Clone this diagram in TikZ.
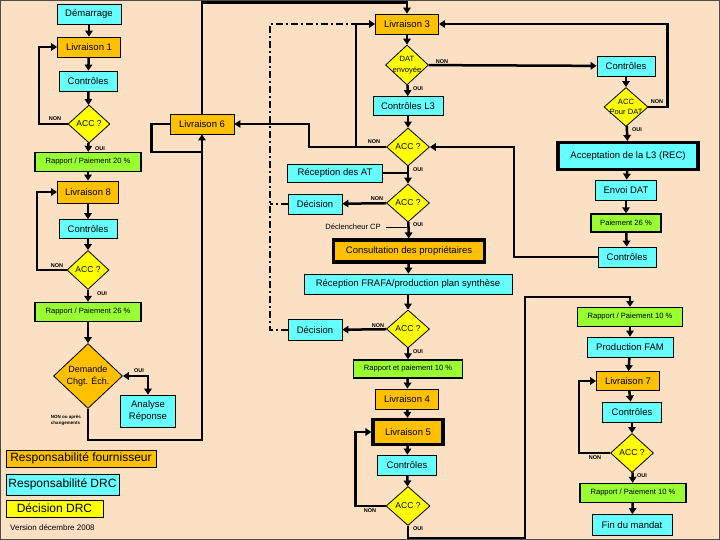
\documentclass[tikz,border=0pt]{standalone}
\usepackage{fontspec}
\setmainfont{Liberation Sans}
\usetikzlibrary{arrows.meta,shapes.geometric}
\definecolor{bgc}{RGB}{251,224,196}
\definecolor{orc}{RGB}{255,192,0}
\definecolor{cyc}{RGB}{102,255,255}
\definecolor{grc}{RGB}{153,255,51}
\definecolor{yec}{RGB}{255,255,0}
\begin{document}
\begin{tikzpicture}[x=1pt,y=-1pt,
 box/.style={draw=black,line width=0.8pt,inner sep=0pt,font=\fontsize{9.5}{11}\selectfont,align=center},
 orb/.style={box,fill=orc}, cyb/.style={box,fill=cyc},
 grb/.style={box,fill=grc,line width=1.4pt,font=\fontsize{7.6}{9}\selectfont},
 thk/.style={line width=3.2pt},
 dia/.style={diamond,draw=black,line width=0.8pt,fill=yec,inner sep=0pt},
 dtxt/.style={font=\fontsize{8.5}{10}\selectfont,align=center,inner sep=0pt},
 dsm/.style={font=\fontsize{7.6}{10.5}\selectfont,align=center,inner sep=0pt},
 lab/.style={font=\fontsize{5.5}{6}\selectfont\bfseries,inner sep=0pt},
 ln/.style={line width=2.5pt},
 arr/.style={ln,-{Triangle[length=6pt,width=7.5pt]}},
 dd/.style={line width=2.2pt,dash pattern=on 7pt off 3pt on 2pt off 3pt},
 legb/.style={draw=black,line width=0.8pt,inner sep=0pt,font=\fontsize{12}{14}\selectfont}
]
\useasboundingbox (0,0) rectangle (720,540);
\fill[bgc] (0,0) rectangle (720,540);
\draw[line width=1pt,black!70] (0.5,0.5) rectangle (719.5,539.5);

% ---- left column
\node[cyb,minimum width=64,minimum height=20] (dem) at (89,14) {Démarrage};
\node[orb,minimum width=63,minimum height=20] (l1) at (89,47) {Livraison 1};
\node[cyb,minimum width=58,minimum height=20] (c1) at (88,81) {Contrôles};
\node[dia,minimum width=42,minimum height=38,label={[dtxt]center:ACC ?}] (a1) at (89,124) {};
\node[grb,minimum width=106,minimum height=19] (r20) at (88,162) {Rapport / Paiement 20 \%};
\node[orb,minimum width=61,minimum height=22] (l8) at (88,192) {Livraison 8};
\node[cyb,minimum width=58,minimum height=19] (c8) at (88,229) {Contrôles};
\node[dia,minimum width=42,minimum height=39,label={[dtxt]center:ACC ?}] (a8) at (88,270) {};
\node[grb,minimum width=106,minimum height=19] (r26) at (88,312) {Rapport / Paiement 26 \%};
\node[dia,fill=orc,minimum width=69,minimum height=65,label={[font=\fontsize{9}{12}\selectfont,align=center,inner sep=0pt]center:{Demande\\Chgt. Éch.}}] (dm) at (88,376) {};
\node[cyb,minimum width=55,minimum height=32,font=\fontsize{9.5}{12.5}\selectfont] (an) at (148,411) {Analyse\\Réponse};
\node[orb,minimum width=64,minimum height=20] (l6) at (202,124) {Livraison 6};

% ---- middle column
\node[orb,minimum width=63,minimum height=20] (l3) at (407,24) {Livraison 3};
\node[dia,minimum width=43,minimum height=40,label={[dsm]center:{DAT\\envoyée}}] (dat) at (407,65) {};
\node[cyb,minimum width=70,minimum height=19] (cl3) at (408,106) {Contrôles L3};
\node[dia,minimum width=43,minimum height=38,label={[dtxt]center:ACC ?}] (a3) at (408,147) {};
\node[cyb,minimum width=95,minimum height=18] (rat) at (335,173) {Réception des AT};
\node[dia,minimum width=43,minimum height=38,label={[dtxt]center:ACC ?}] (a4) at (408,203) {};
\node[cyb,minimum width=54,minimum height=20] (dec1) at (315,204) {Décision};
\node[font=\fontsize{7.6}{9}\selectfont,inner sep=0pt,anchor=east] (dcp) at (381,227) {Déclencheur CP};
\node[orb,thk,minimum width=151,minimum height=22] (cons) at (409,251) {Consultation des propriétaires};
\node[cyb,minimum width=208,minimum height=20] (frafa) at (408,284) {Réception FRAFA/production plan synthèse};
\node[dia,minimum width=43,minimum height=38,label={[dtxt]center:ACC ?}] (a5) at (408,329) {};
\node[cyb,minimum width=54,minimum height=21] (dec2) at (315,330) {Décision};
\node[grb,minimum width=109,minimum height=18] (r10a) at (408,369) {Rapport et paiement 10 \%};
\node[orb,minimum width=63,minimum height=20] (l4) at (407,399) {Livraison 4};
\node[orb,thk,minimum width=70,minimum height=25] (l5) at (408,432) {Livraison 5};
\node[cyb,minimum width=59,minimum height=20] (c5) at (407,465) {Contrôles};
\node[dia,minimum width=44,minimum height=39,label={[dtxt]center:ACC ?}] (a6) at (408,506) {};

% ---- right column
\node[cyb,minimum width=58,minimum height=20] (cr) at (626,66) {Contrôles};
\node[dia,minimum width=44,minimum height=39,label={[dsm]center:{ACC\\Pour DAT}}] (adat) at (626,107) {};
\node[cyb,thk,minimum width=140,minimum height=27] (acc) at (628,156) {Acceptation de la L3 (REC)};
\node[cyb,minimum width=61,minimum height=20] (env) at (626,190) {Envoi DAT};
\node[grb,minimum width=70,minimum height=18] (p26) at (626,223) {Paiement 26 \%};
\node[cyb,minimum width=58,minimum height=20] (cr2) at (627,257) {Contrôles};
\node[grb,minimum width=105,minimum height=19] (r10b) at (630,317) {Rapport / Paiement 10 \%};
\node[cyb,minimum width=86,minimum height=20] (fam) at (630,347) {Production FAM};
\node[orb,minimum width=63,minimum height=19] (l7) at (628,381) {Livraison 7};
\node[cyb,minimum width=59,minimum height=20] (c7) at (632,412) {Contrôles};
\node[dia,minimum width=43,minimum height=39,label={[dtxt]center:ACC ?}] (a7) at (632,453) {};
\node[grb,minimum width=106,minimum height=19] (r10c) at (633,493) {Rapport / Paiement 10 \%};
\node[cyb,minimum width=80,minimum height=21] (fin) at (632,525) {Fin du mandat};

% ---- legend
\node[legb,fill=orc,minimum width=150,minimum height=17] (lg1) at (81,458.5) {Responsabilité fournisseur};
\node[legb,fill=cyc,minimum width=113,minimum height=21] (lg2) at (62.5,484.5) {Responsabilité DRC};
\node[legb,fill=yec,minimum width=97,minimum height=17] (lg3) at (54.5,508.5) {Décision DRC};
\node[font=\fontsize{8}{9}\selectfont,inner sep=0pt,anchor=west] (ver) at (10,528) {Version décembre 2008};

% ---- labels
\node[lab] (n1) at (55,118.5) {NON};
\node[lab] (o1) at (100,149) {OUI};
\node[lab] (n8) at (57,266) {NON};
\node[lab] (o8) at (102,294) {OUI};
\node[lab] (odm) at (139,371) {OUI};
\node[font=\fontsize{4.5}{6}\selectfont\bfseries,inner sep=0pt,align=left] (ndm) at (66,420) {NON ou après\\changements};
\node[lab] (ndat) at (442,62) {NON};
\node[lab] (odat) at (418,89) {OUI};
\node[lab] (nadat) at (657,102) {NON};
\node[lab] (oadat) at (637,130) {OUI};
\node[lab] (n3) at (374,142) {NON};
\node[lab] (o3) at (418,170) {OUI};
\node[lab] (n4) at (377,199) {NON};
\node[lab] (o4) at (418,225) {OUI};
\node[lab] (n5) at (378,326) {NON};
\node[lab] (o5) at (418,352) {OUI};
\node[lab] (n6) at (370,511) {NON};
\node[lab] (o6) at (418,529) {OUI};
\node[lab] (n7) at (595,458) {NON};
\node[lab] (o7) at (642,476) {OUI};

% ---- connectors left
\draw[arr] (dem) -- (l1);
\draw[arr] (l1) -- (c1);
\draw[arr] (c1) -- (a1);
\draw[arr] (a1.west) -| ([xshift=-18]l1.west) -- (l1.west);
\draw[arr] (a1) -- (r20);
\draw[arr] (r20) -- (l8);
\draw[arr] (l8) -- (c8);
\draw[arr] (c8) -- (a8);
\draw[arr] (a8.west) -| ([xshift=-20]l8.west) -- (l8.west);
\draw[arr] (a8) -- (r26);
\draw[arr] (r26) -- (dm);
\draw[ln,{Triangle[length=6pt,width=7.5pt]}-{Triangle[length=6pt,width=7.5pt]}] (dm.east) -| (an.north);
\draw[arr] (dm.south) -- ++(0,31) -| (l6.south);
\draw[ln] (l6.west) -- ++(-18,0) -- ++(0,28) -- ++(50,0);
\draw[arr] (l6.north) |- ([yshift=11]l3.north) -- (l3.north);

% ---- connectors middle
\draw[dd] (dec2.west) -- ++(-18,0) |- ([xshift=-17]l3.west);
\draw[dd] (dec1.west) -- ++(-18,0);
\draw[arr] (l3) -- (dat);
\draw[arr] (dat) -- (cl3);
\draw[arr] (cl3) -- (a3);
\draw[arr] (a3.west) -- ++(-77,0) |- (l6.east);
\draw[arr] ([xshift=-30]a3.west) |- (l3.west);
\draw[arr] (a3) -- (a4);
\draw[ln] (rat.east) -- (rat.east -| a3.south);
\draw[arr] (a4) -- (dec1);
\draw[line width=0.8pt] ([xshift=5]dcp.east) -- (dcp.east -| a4.south);
\draw[arr] (a4) -- (cons);
\draw[arr] (cons) -- (frafa);
\draw[arr] (frafa) -- (a5);
\draw[arr] (a5) -- (dec2);
\draw[arr] (a5) -- (r10a);
\draw[arr] (r10a) -- (l4);
\draw[arr] (l4) -- (l5);
\draw[arr] (l5) -- (c5);
\draw[arr] (c5) -- (a6);
\draw[arr] (a6.west) -| ([xshift=-16]l5.west) -- (l5.west);
\draw[arr] (a6.south) -- ++(0,12) -- ++(117,0) |- ([yshift=10]r10b.north) -- (r10b.north);

% ---- connectors right
\draw[arr] (dat) -- (cr);
\draw[arr] (cr) -- (adat);
\draw[arr] (adat.east) -- ++(19,0) |- (l3.east);
\draw[arr] (adat) -- (acc);
\draw[arr] (acc) -- (env);
\draw[arr] (env) -- (p26);
\draw[arr] (p26) -- (cr2);
\draw[arr] (cr2.west) -| ([xshift=84]a3.east) -- (a3.east);
\draw[arr] (r10b) -- (fam);
\draw[arr] (fam) -- (l7);
\draw[arr] (l7) -- (c7);
\draw[arr] (c7) -- (a7);
\draw[arr] (a7.west) -| ([xshift=-17]l7.west) -- (l7.west);
\draw[arr] (a7) -- (r10c);
\draw[arr] (r10c) -- (fin);
\end{tikzpicture}
\end{document}
